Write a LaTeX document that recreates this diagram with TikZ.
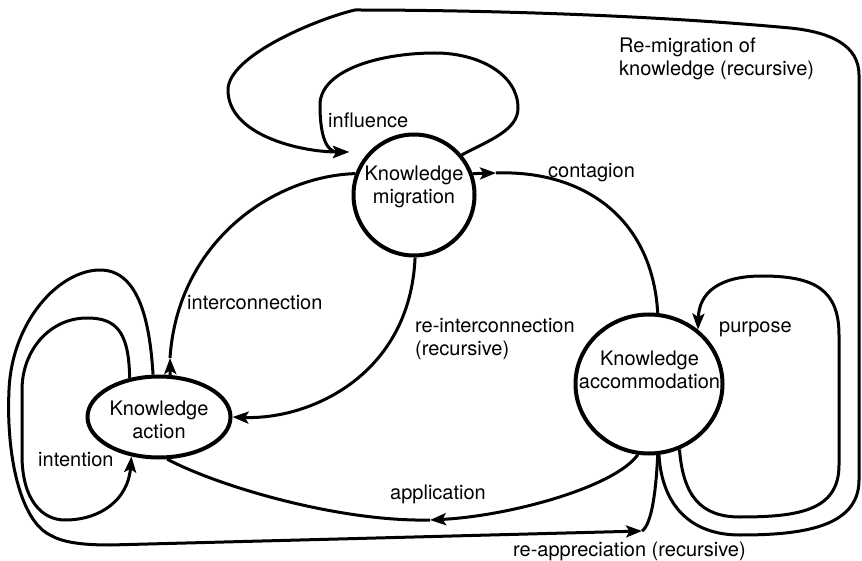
\documentclass[tikz,border=0pt]{standalone}
\usepackage{fontspec}
\setmainfont{TeX Gyre Heros}
\usetikzlibrary{arrows.meta,shapes.geometric}

\begin{document}
\begin{tikzpicture}[x=1pt,y=-1pt,
  font=\fontsize{20}{23}\selectfont,
  stage/.style={draw, ellipse, line width=4pt, inner sep=0pt},
  stagetext/.style={align=center, inner sep=0pt},
  flow/.style={line width=3pt, line join=round},
  tip/.style={-{Stealth[length=16pt,width=12pt,inset=3.5pt]}},
  lbl/.style={anchor=base west, inner sep=0pt},
  lbltwo/.style={anchor=west, align=left, inner sep=0pt}
]
\useasboundingbox (0,0) rectangle (862,561);

% the three stages
\node[stage, minimum width=121pt, minimum height=121pt] (mig) at (414,195) {};
\node[stage, minimum width=143pt, minimum height=81pt] (act) at (159,417) {};
\node[stage, minimum width=147pt, minimum height=139pt] (acc) at (649,384) {};

\node[stagetext] (migt) at (414,186.5) {Knowledge\\migration};
\node[stagetext] (actt) at (159,419.5) {Knowledge\\action};
\node[stagetext] (acct) at (649.5,369.5) {Knowledge\\accommodation};

% points where arrow heads sit along a connector
\coordinate (migin) at (349,152);
\coordinate (contarr) at (496,173);
\coordinate (icarr) at (170,358);
\coordinate (apparr) at (430,520);
\coordinate (reapparr) at (642,531);

% influence (self loop on migration)
\draw[flow,tip] (mig.40) .. controls (490,140) and (518,130) .. (518,108)
  .. controls (518,75) and (480,53) .. (435,53)
  .. controls (380,53) and (320,70) .. (320,105)
  .. controls (320,140) and (328,152) .. (migin);

% re-migration of knowledge
\draw[flow,tip] (acc.-82) .. controls (662,505) and (690,535) .. (740,535)
  .. controls (800,535) and (859,528) .. (859,480)
  -- (859,75)
  .. controls (859,45) and (830,32) .. (790,28)
  .. controls (650,15) and (480,10) .. (355,10)
  .. controls (320,18) and (228,55) .. (228,90)
  .. controls (228,135) and (300,152) .. (migin);

% purpose (self loop on accommodation)
\draw[flow,tip] (acc.-65) .. controls (683,495) and (700,517) .. (740,517)
  .. controls (800,517) and (839,510) .. (839,465)
  -- (839,335)
  .. controls (839,290) and (815,276) .. (762,276)
  .. controls (720,276) and (699,292) .. (acc.48);

% contagion
\draw[flow,tip] (mig.20) -- (contarr);
\draw[flow] (contarr) .. controls (580,170) and (652,215) .. (acc.83);

% interconnection
\draw[flow,tip] (act.75) -- (icarr);
\draw[flow] (icarr) .. controls (178,240) and (275,176) .. (mig.160);

% re-interconnection
\draw[flow,tip] (mig.271) .. controls (410,375) and (310,420) .. (act.0);

% application
\draw[flow,tip] (acc.261) .. controls (615,487) and (510,516) .. (apparr);
\draw[flow] (apparr) .. controls (340,522) and (220,487) .. (act.-79);

% intention (self loop on action)
\draw[flow,tip] (act.127) .. controls (129,330) and (115,318) .. (87,318)
  .. controls (50,318) and (22,350) .. (22,390)
  -- (22,455)
  .. controls (22,500) and (42,520) .. (65,520)
  .. controls (100,520) and (128,500) .. (act.235);

% re-appreciation
\draw[flow,tip] (act.98) .. controls (150,325) and (140,270) .. (100,270)
  .. controls (60,270) and (12,320) .. (9,390)
  .. controls (6,455) and (20,520) .. (50,535)
  .. controls (62,542) and (80,545) .. (110,545)
  -- (reapparr);
\draw[flow] (reapparr) .. controls (652,524) and (656,490) .. (acc.-83);

% connector labels
\node[lbltwo] (remig) at (619,59) {Re-migration of\\knowledge (recursive)};
\node[lbl] (infl) at (328,128) {influence};
\node[lbl] (cont) at (548,178) {contagion};
\node[lbl] (inter) at (187,309) {interconnection};
\node[lbltwo] (reint) at (415,339.5) {re-interconnection\\(recursive)};
\node[lbl] (purp) at (719,333) {purpose};
\node[lbl] (inten) at (38,466) {intention};
\node[lbl] (appl) at (390,499) {application};
\node[lbl] (reapp) at (513,556) {re-appreciation (recursive)};
\end{tikzpicture}
\end{document}
